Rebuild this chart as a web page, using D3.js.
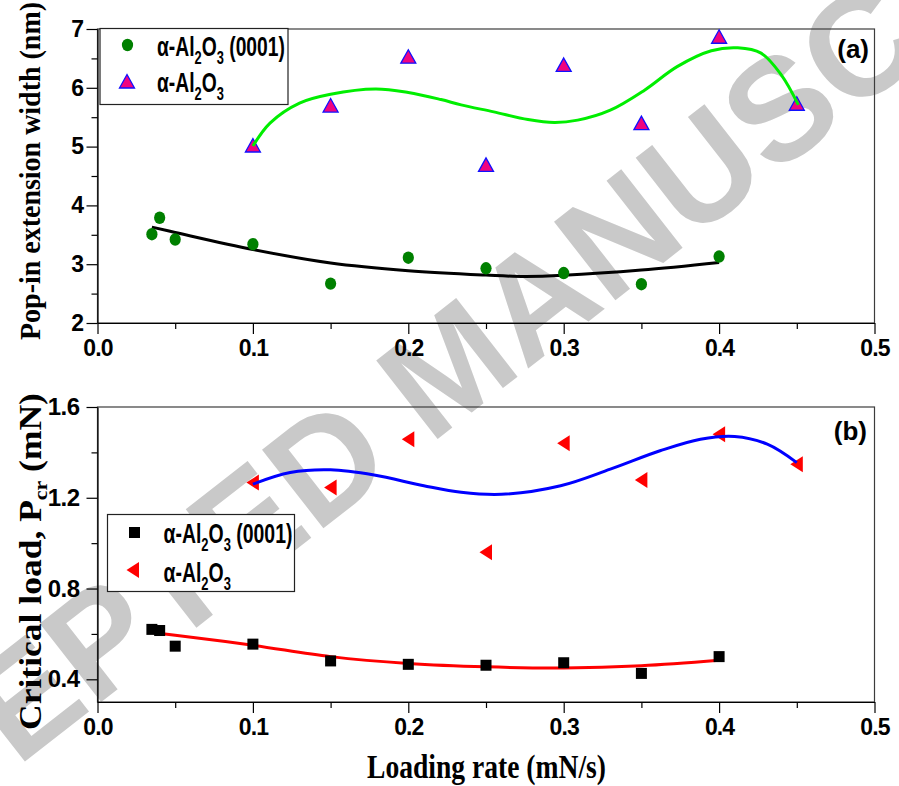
<!DOCTYPE html>
<html>
<head>
<meta charset="utf-8">
<script src="https://cdn.jsdelivr.net/npm/d3@7"></script>
<style>
  body { margin: 0; background: #fff; }
  svg { display: block; }
</style>
</head>
<body>
<svg id="chart" width="899" height="786"></svg>
<script>
// ---- data -------------------------------------------------------------
// loading rate (mN/s) for the (0001) oriented sapphire
const rate0001 = [0.035, 0.04, 0.05, 0.10, 0.15, 0.20, 0.25, 0.30, 0.35, 0.40];
// loading rate (mN/s) for polycrystalline alumina
const rateAlumina = [0.10, 0.15, 0.20, 0.25, 0.30, 0.35, 0.40, 0.45];

// (a) pop-in extension width (nm)
const width0001 = [3.51, 3.79, 3.42, 3.34, 2.67, 3.11, 2.93, 2.85, 2.66, 3.13];
const widthAlumina = [5.01, 5.69, 6.52, 4.68, 6.38, 5.39, 6.86, 5.72];
// (b) critical load Pcr (mN)
const load0001 = [0.62, 0.615, 0.546, 0.555, 0.481, 0.466, 0.462, 0.473, 0.426, 0.50];
const loadAlumina = [1.267, 1.245, 1.458, 0.96, 1.44, 1.278, 1.48, 1.348];

// fitted trend lines, [rate, value]
const trendWidth0001 = [[0.035, 3.63], [0.05, 3.54], [0.10, 3.25], [0.15, 3.02], [0.20, 2.89],
  [0.25, 2.815], [0.275, 2.79], [0.30, 2.81], [0.35, 2.90], [0.40, 3.03]];
const trendWidthAlumina = [[0.100, 5.01], [0.111, 5.40], [0.130, 5.74], [0.150, 5.89], [0.179, 5.98],
  [0.200, 5.92], [0.221, 5.80], [0.234, 5.71], [0.255, 5.59], [0.277, 5.46], [0.294, 5.41],
  [0.309, 5.45], [0.330, 5.62], [0.352, 5.96], [0.373, 6.36], [0.395, 6.63], [0.412, 6.68],
  [0.427, 6.59], [0.440, 6.22], [0.451, 5.71]];
const trendLoad0001 = [[0.035, 0.606], [0.05, 0.594], [0.10, 0.55], [0.15, 0.50], [0.20, 0.47],
  [0.25, 0.455], [0.30, 0.45], [0.35, 0.46], [0.40, 0.484]];
const trendLoadAlumina = [[0.100, 1.26], [0.124, 1.311], [0.150, 1.323], [0.178, 1.30], [0.210, 1.253],
  [0.234, 1.224], [0.260, 1.215], [0.298, 1.253], [0.330, 1.326], [0.362, 1.407], [0.388, 1.458],
  [0.410, 1.47], [0.431, 1.436], [0.450, 1.355]];

// axis ticks
const xTicks = [0, 0.1, 0.2, 0.3, 0.4, 0.5];
const xMinorTicks = [0.05, 0.15, 0.25, 0.35, 0.45];
const xTickLabels = ["0.0", "0.1", "0.2", "0.3", "0.4", "0.5"];
const yTicksA = [2, 3, 4, 5, 6, 7];
const yMinorTicksA = [2.5, 3.5, 4.5, 5.5, 6.5];
const yTickLabelsA = ["2", "3", "4", "5", "6", "7"];
const yTicksB = [0.4, 0.8, 1.2, 1.6];
const yMinorTicksB = [0.6, 1.0, 1.4];
const yTickLabelsB = ["0.4", "0.8", "1.2", "1.6"];

// ---- drawing ----------------------------------------------------------
const svg = d3.select("#chart");
const SANS = "'Liberation Sans', Arial, Helvetica, sans-serif";
const SERIF = "'Liberation Serif', 'Times New Roman', serif";

const x = d3.scaleLinear().domain([0, 0.5]).range([97.5, 874.5]);
const yA = d3.scaleLinear().domain([2, 7]).range([323, 29]);
const yB = d3.scaleLinear().domain([0.3, 1.6]).range([702, 407]);

// watermark across the page
svg.append("text")
  .attr("transform", "translate(450,366) rotate(-38)")
  .attr("text-anchor", "middle")
  .attr("dominant-baseline", "central")
  .attr("font-family", SANS).attr("font-weight", "bold").attr("font-size", 145)
  .attr("fill", "#c9c9c9")
  .text("ACCEPTED MANUSCRIPT");

// squeeze a text element horizontally to a given width
function squeeze(t, tx, ty, target, rot) {
  const w = t.node().getComputedTextLength();
  const k = target / w;
  t.attr("transform", `translate(${tx},${ty})` + (rot ? ` rotate(${rot})` : "") + ` scale(${k},1)`);
}

function addChem(t, size, subSize, shift, tail) {
  t.append("tspan").text("\u03b1-Al");
  t.append("tspan").attr("font-size", subSize).attr("dy", shift).text("2");
  t.append("tspan").attr("font-size", size).attr("dy", -shift).text("O");
  t.append("tspan").attr("font-size", subSize).attr("dy", shift).text("3");
  if (tail) t.append("tspan").attr("font-size", size).attr("dy", -shift).text(tail);
}

const upTri = "M0,-7.5L7.5,6L-7.5,6Z";
const leftTri = "M-6.5,0L6,-8L6,8Z";

function panel(y, yTicks, yMinor, yLabels, yPad, yFont) {
  const g = svg.append("g");
  const [x0, x1] = x.range();
  const [yb, yt] = y.range();

  g.append("rect")
    .attr("x", x0).attr("y", yt).attr("width", x1 - x0).attr("height", yb - yt)
    .attr("fill", "none").attr("stroke", "#3c3c3c").attr("stroke-width", 1.2);

  const xa = g.append("g").attr("transform", `translate(0,${yb})`)
    .call(d3.axisBottom(x).tickValues(xTicks).tickSize(11).tickSizeOuter(0).tickPadding(6)
      .tickFormat((d, i) => xTickLabels[i]));
  const xm = g.append("g").attr("transform", `translate(0,${yb})`)
    .call(d3.axisBottom(x).tickValues(xMinorTicks).tickSize(6).tickSizeOuter(0).tickFormat(""));
  xm.select(".domain").remove();

  const ya = g.append("g").attr("transform", `translate(${x0},0)`)
    .call(d3.axisLeft(y).tickValues(yTicks).tickSize(11).tickSizeOuter(0).tickPadding(yPad)
      .tickFormat((d, i) => yLabels[i]));
  const ym = g.append("g").attr("transform", `translate(${x0},0)`)
    .call(d3.axisLeft(y).tickValues(yMinor).tickSize(6).tickSizeOuter(0).tickFormat(""));
  ym.select(".domain").remove();

  [xa, xm, ya, ym].forEach(a => {
    a.selectAll("path, line").attr("stroke", "#000").attr("stroke-width", 1.2);
  });
  xa.selectAll("text").attr("font-family", SANS).attr("font-weight", "bold")
    .attr("font-size", 23).attr("letter-spacing", -0.9).attr("fill", "#000");
  ya.selectAll("text").attr("font-family", SANS).attr("font-weight", "bold")
    .attr("font-size", yFont).attr("letter-spacing", -0.5).attr("fill", "#000");
  return g;
}

// ---------------- panel (a)
const ga = panel(yA, yTicksA, yMinorTicksA, yTickLabelsA, 3, 23);

ga.append("g").selectAll("path")
  .data(rateAlumina.map((r, i) => [r, widthAlumina[i]]))
  .join("path")
  .attr("transform", d => `translate(${x(d[0])},${yA(d[1])})`)
  .attr("d", upTri).attr("fill", "#f0047f").attr("stroke", "#1010ff").attr("stroke-width", 1.3);

const lineA = d3.line().x(d => x(d[0])).y(d => yA(d[1])).curve(d3.curveCatmullRom.alpha(0.5));
ga.append("path").datum(trendWidthAlumina).attr("d", lineA)
  .attr("fill", "none").attr("stroke", "#00ee00").attr("stroke-width", 3);
ga.append("path").datum(trendWidth0001).attr("d", lineA)
  .attr("fill", "none").attr("stroke", "#000").attr("stroke-width", 3);

ga.append("g").selectAll("ellipse")
  .data(rate0001.map((r, i) => [r, width0001[i]]))
  .join("ellipse")
  .attr("cx", d => x(d[0])).attr("cy", d => yA(d[1])).attr("rx", 5.6).attr("ry", 6.2)
  .attr("fill", "#008000");

// legend (a)
const la = ga.append("g");
la.append("rect").attr("x", 100).attr("y", 28.5).attr("width", 188).attr("height", 76)
  .attr("fill", "#fff").attr("stroke", "#222").attr("stroke-width", 1.2);
la.append("ellipse").attr("cx", 127.5).attr("cy", 45).attr("rx", 5.6).attr("ry", 6.2).attr("fill", "#008000");
la.append("path").attr("transform", "translate(127,82)").attr("d", upTri)
  .attr("fill", "#f0047f").attr("stroke", "#1010ff").attr("stroke-width", 1.3);
const la1 = la.append("text").attr("font-family", SANS).attr("font-weight", "bold").attr("font-size", 27);
addChem(la1, 27, 18, 8, " (0001)");
const la2 = la.append("text").attr("font-family", SANS).attr("font-weight", "bold").attr("font-size", 27);
addChem(la2, 27, 18, 8, null);
const kA = 128 / la1.node().getComputedTextLength();
la1.attr("transform", `translate(157,56) scale(${kA},1)`);
la2.attr("transform", `translate(157,92) scale(${kA},1)`);

ga.append("text").attr("x", 869).attr("y", 58).attr("text-anchor", "end")
  .attr("font-family", SANS).attr("font-weight", "bold").attr("font-size", 26).text("(a)");

// y title (a)
const ta = ga.append("text").attr("text-anchor", "middle")
  .attr("font-family", SERIF).attr("font-weight", "bold").attr("font-size", 30)
  .text("Pop-in extension width (nm)");
squeeze(ta, 40, 171, 338, -90);

// ---------------- panel (b)
const gb = panel(yB, yTicksB, yMinorTicksB, yTickLabelsB, 7, 24);

gb.append("g").selectAll("path")
  .data(rateAlumina.map((r, i) => [r, loadAlumina[i]]))
  .join("path")
  .attr("transform", d => `translate(${x(d[0])},${yB(d[1])})`)
  .attr("d", leftTri).attr("fill", "#ff0000");

const lineB = d3.line().x(d => x(d[0])).y(d => yB(d[1])).curve(d3.curveCatmullRom.alpha(0.5));
gb.append("path").datum(trendLoadAlumina).attr("d", lineB)
  .attr("fill", "none").attr("stroke", "#0000ff").attr("stroke-width", 3);
gb.append("path").datum(trendLoad0001).attr("d", lineB)
  .attr("fill", "none").attr("stroke", "#ff0000").attr("stroke-width", 3);

gb.append("g").selectAll("rect")
  .data(rate0001.map((r, i) => [r, load0001[i]]))
  .join("rect")
  .attr("x", d => x(d[0]) - 5.5).attr("y", d => yB(d[1]) - 5.5)
  .attr("width", 11).attr("height", 11).attr("fill", "#000");

// legend (b)
const lb = gb.append("g");
lb.append("rect").attr("x", 107.5).attr("y", 514.5).attr("width", 187).attr("height", 77)
  .attr("fill", "#fff").attr("stroke", "#222").attr("stroke-width", 1.2);
lb.append("rect").attr("x", 129).attr("y", 527).attr("width", 11).attr("height", 11).attr("fill", "#000");
lb.append("path").attr("transform", "translate(133,570)").attr("d", leftTri).attr("fill", "#ff0000");
const lb1 = lb.append("text").attr("font-family", SANS).attr("font-weight", "bold").attr("font-size", 27);
addChem(lb1, 27, 18, 8, " (0001)");
const lb2 = lb.append("text").attr("font-family", SANS).attr("font-weight", "bold").attr("font-size", 27);
addChem(lb2, 27, 18, 8, null);
const kB = 129 / lb1.node().getComputedTextLength();
lb1.attr("transform", `translate(163.5,543) scale(${kB},1)`);
lb2.attr("transform", `translate(163.5,582) scale(${kB},1)`);

gb.append("text").attr("x", 867).attr("y", 440).attr("text-anchor", "end")
  .attr("font-family", SANS).attr("font-weight", "bold").attr("font-size", 26).text("(b)");

// y title (b)
const tb = gb.append("text").attr("text-anchor", "middle")
  .attr("font-family", SERIF).attr("font-weight", "bold").attr("font-size", 31);
tb.append("tspan").text("Critical load, P");
tb.append("tspan").attr("font-size", 19).attr("dy", 6).text("cr");
tb.append("tspan").attr("font-size", 31).attr("dy", -6).text("\u00a0(mN)");
squeeze(tb, 41, 561.5, 337, -90);

// x title
const tx = svg.append("text").attr("text-anchor", "middle")
  .attr("font-family", SERIF).attr("font-weight", "bold").attr("font-size", 33)
  .text("Loading rate (mN/s)");
squeeze(tx, 486.5, 778, 239, 0);
</script>
</body>
</html>
